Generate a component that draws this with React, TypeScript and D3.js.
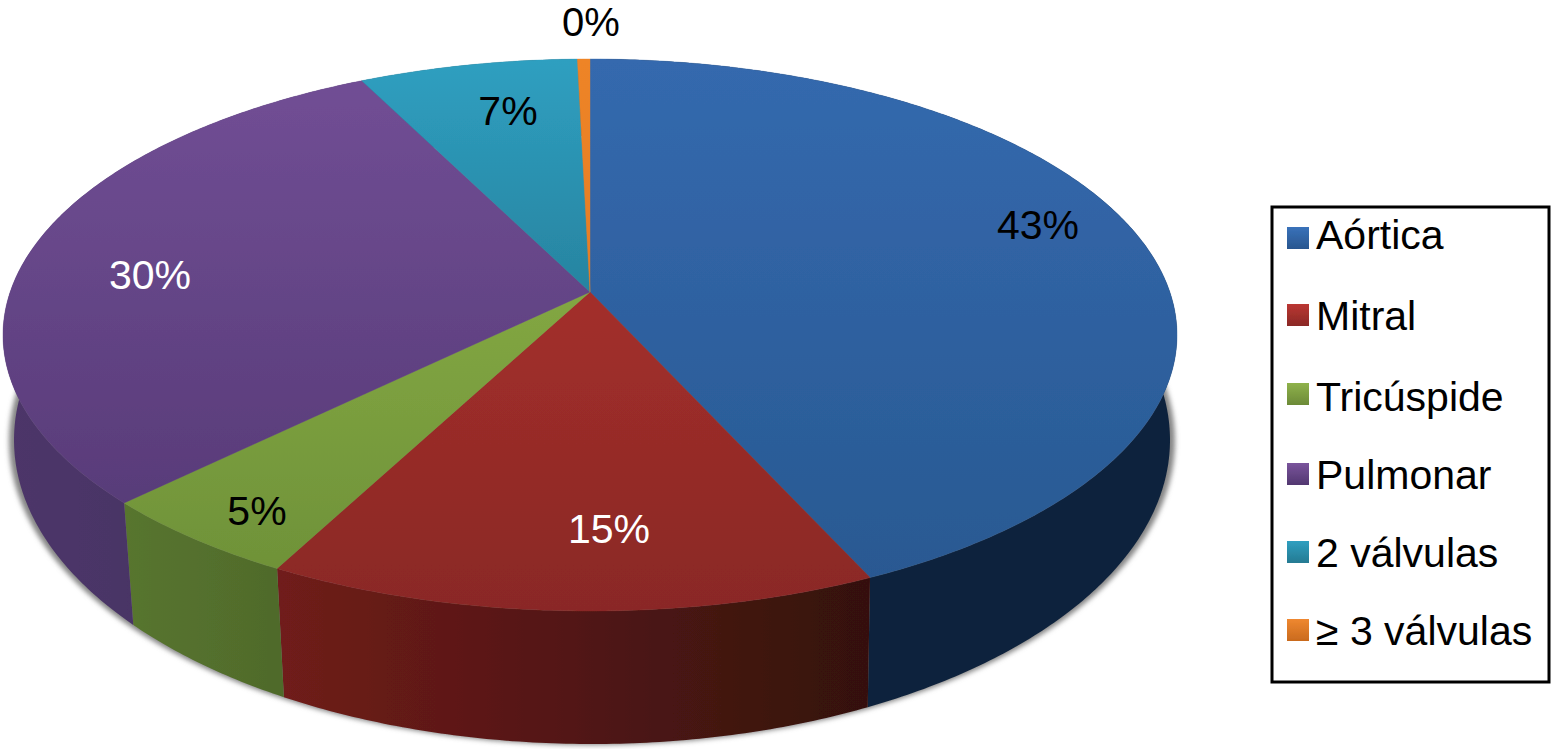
import React from "react";
import * as d3 from "d3";

const categories = ["Aórtica", "Mitral", "Tricúspide", "Pulmonar", "2 válvulas", "≥ 3 válvulas"];
const values = [43.2, 14.5, 5.0, 29.9, 7.0, 0.4];
const percentLabels = ["43%", "15%", "5%", "30%", "7%", "0%"];
const labelColors = ["#000", "#fff", "#000", "#fff", "#000", "#000"];
const labelX = [1038, 609, 257, 150, 508, 591];
const labelY = [239, 543, 525, 289, 125, 36.3];
const labelSize = [41, 41, 41, 41, 41, 40];
const legendBaselines = [249, 330, 411, 489, 567, 645];
const swatchTops = [227, 304, 383, 463, 541, 619];
const topStops = [
  ["#3469ae", "#285890"],
  ["#b5342f", "#8a2825"],
  ["#93b84b", "#6c8f37"],
  ["#724f96", "#523772"],
  ["#2f9fc0", "#1c5f75"],
  ["#ee8428", "#d9741f"],
];
const wallStops = [
  ["#10233c", "#10233c"],
  ["#701c1a", "#34110e"],
  ["#58752f", "#4f6a2b"],
  ["#4d3669", "#43305f"],
  ["#1c5566", "#1c5566"],
  ["#8a4a14", "#8a4a14"],
];
const legendTop = [
  ["#3a72ba", "#28568f"],
  ["#bb3733", "#8a2825"],
  ["#8fb24b", "#6c8a38"],
  ["#7a549c", "#523770"],
  ["#2f9fc0", "#257a92"],
  ["#ef8830", "#c96a1e"],
];

const W = 1552;
const H = 749;
// perspective: unit disc translation placing the pie centre away from the ellipse centre
const P = -0.156;
const topX = d3.scaleLinear().domain([-1, 1]).range([3, 1177]);
const topY = d3.scaleLinear().domain([-1, 1]).range([59, 611]);
const botX = d3.scaleLinear().domain([-1, 1]).range([14, 1170]);
const botY = d3.scaleLinear().domain([-1, 1]).range([136, 744]);
const shadowX = d3.scaleLinear().domain([-1, 1]).range([9, 1175]);

const project = (a: number): [number, number] => {
  const x = Math.sin(a);
  const y = -Math.cos(a);
  const k = 1 + P * y;
  return [(x * Math.sqrt(1 - P * P)) / k, (y + P) / k];
};

const samples = (a0: number, a1: number) => {
  const n = Math.max(2, Math.ceil((a1 - a0) / 0.01));
  return d3.range(n + 1).map((i) => project(a0 + ((a1 - a0) * i) / n));
};

const line = d3.line();
const slices = d3.pie<number>().sort(null).value((d) => d)(values);

const topPath = (a0: number, a1: number) =>
  line([
    [topX(0), topY(P)],
    ...samples(a0, a1).map(([u, v]) => [topX(u), topY(v)] as [number, number]),
  ]) + "Z";

const wallPath = (a0: number, a1: number) => {
  const s = samples(a0, a1);
  return (
    line([
      ...s.map(([u, v]) => [topX(u), topY(v)] as [number, number]),
      ...s
        .slice()
        .reverse()
        .map(([u, v]) => [botX(u), botY(v)] as [number, number]),
    ]) + "Z"
  );
};

const wallExtent = (a0: number, a1: number) =>
  d3.extent(samples(a0, a1).flatMap(([u]) => [topX(u), botX(u)])) as [number, number];

const FONT = "'Liberation Sans', Arial, sans-serif";

export default function App() {
  const shadowOutline = d3.range(0, 361, 2).map((d) => {
    const a = (d * Math.PI) / 180;
    return [shadowX(Math.sin(a)), botY(Math.cos(a)) + 1] as [number, number];
  });
  return (
    <svg
      width={W}
      height={H}
      viewBox={`0 0 ${W} ${H}`}
      style={{ position: "absolute", left: 0, top: 0, display: "block", background: "#fff" }}
    >
      <defs>
        <filter id="shadow" x="-5%" y="-5%" width="110%" height="110%">
          <feGaussianBlur stdDeviation="2.5" />
        </filter>
        <filter id="soft" x="-5%" y="-5%" width="110%" height="110%">
          <feGaussianBlur stdDeviation="0.5" />
        </filter>
        {slices.map((s, i) => {
          const [x0, x1] = wallExtent(s.startAngle, s.endAngle);
          return (
            <React.Fragment key={i}>
              <linearGradient id={`top${i}`} gradientUnits="userSpaceOnUse" x1={0} x2={0} y1={60} y2={610}>
                <stop offset="0" stopColor={topStops[i][0]} />
                <stop offset="1" stopColor={topStops[i][1]} />
              </linearGradient>
              <linearGradient id={`wall${i}`} gradientUnits="userSpaceOnUse" x1={x0} x2={x1} y1={0} y2={0}>
                <stop offset="0" stopColor={wallStops[i][0]} />
                <stop offset="1" stopColor={wallStops[i][1]} />
              </linearGradient>
              <linearGradient id={`leg${i}`} x1={0} x2={0} y1={0} y2={1}>
                <stop offset="0" stopColor={legendTop[i][0]} />
                <stop offset="1" stopColor={legendTop[i][1]} />
              </linearGradient>
            </React.Fragment>
          );
        })}
      </defs>

      <path d={line(shadowOutline) + "Z"} fill="#858585" filter="url(#shadow)" />

      <g filter="url(#soft)">
        {slices.map((s, i) => (
          <path key={i} d={wallPath(s.startAngle, s.endAngle)} fill={`url(#wall${i})`} />
        ))}
        {slices.map((s, i) => (
          <path
            key={i}
            d={topPath(s.startAngle, s.endAngle)}
            fill={`url(#top${i})`}
            stroke={`url(#top${i})`}
            strokeWidth={0.4}
          />
        ))}
      </g>

      <g fontFamily={FONT} textAnchor="middle">
        {percentLabels.map((t, i) => (
          <text key={i} x={labelX[i]} y={labelY[i]} fontSize={labelSize[i]} fill={labelColors[i]}>
            {t}
          </text>
        ))}
      </g>

      <rect x={1272} y={207} width={277} height={475} fill="#fff" stroke="#000" strokeWidth={3} />
      {categories.map((c, i) => (
        <g key={c}>
          <rect x={1287} y={swatchTops[i]} width={22} height={22} fill={`url(#leg${i})`} filter="url(#soft)" />
          <text x={1316} y={legendBaselines[i]} fontFamily={FONT} fontSize={41} fill="#000">
            {c}
          </text>
        </g>
      ))}
    </svg>
  );
}
